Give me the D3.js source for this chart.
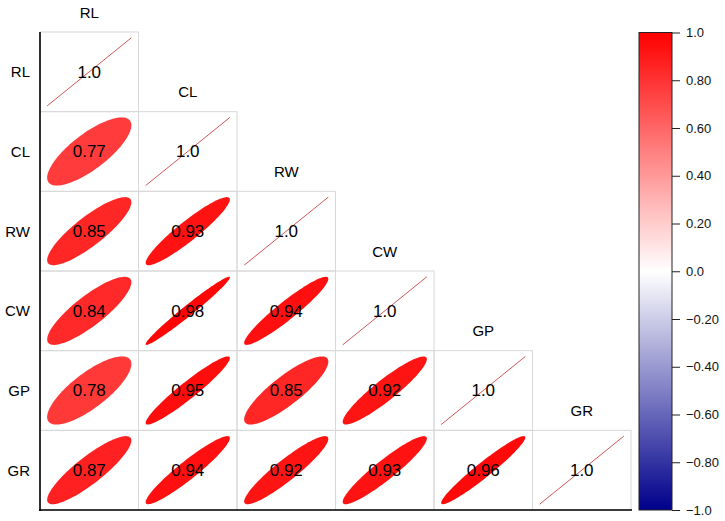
<!DOCTYPE html>
<html>
<head>
<meta charset="utf-8">
<script src="https://cdn.jsdelivr.net/npm/d3@7"></script>
<style>
  body { margin: 0; background: #fff; }
  text { font-family: Arial, "Liberation Sans", sans-serif; }
</style>
</head>
<body>
<div id="canvas"></div>
<script>
"use strict"

let svgWidth = 725;
let svgHeight = 521;

/* Data: variables and lower-triangle correlations (row by row) */
let variables = ["RL", "CL", "RW", "CW", "GP", "GR"];
let corrRows = [
    [1.0],
    [0.77, 1.0],
    [0.85, 0.93, 1.0],
    [0.84, 0.98, 0.94, 1.0],
    [0.78, 0.95, 0.85, 0.92, 1.0],
    [0.87, 0.94, 0.92, 0.93, 0.96, 1.0]
];
let legendTicks = [1.0, 0.8, 0.6, 0.4, 0.2, 0.0, -0.2, -0.4, -0.6, -0.8, -1.0];

let cells = [];
corrRows.forEach(function (row, i) {
    row.forEach(function (r, j) {
        cells.push({row: variables[i], col: variables[j], r: r, diag: i === j});
    });
});

let svg = d3.select("#canvas")
    .append("svg")
    .attr("width", svgWidth)
    .attr("height", svgHeight);

/* Scales */
let xScale = d3.scaleBand()
    .domain(variables)
    .range([40, 631]);

let yScale = d3.scaleBand()
    .domain(variables)
    .range([32, 510]);

let color = d3.scaleLinear()
    .domain([-1, 0, 1])
    .range(["#00008b", "#ffffff", "#ff0000"]);

let cw = xScale.bandwidth();
let ch = yScale.bandwidth();

// local ellipse coords in [-1,1] mapped into the cell
let ex = d3.scaleLinear().domain([-1, 1]).range([cw / 2 - cw / 2 * 0.855, cw / 2 + cw / 2 * 0.855]);
let ey = d3.scaleLinear().domain([-1, 1]).range([ch / 2 + ch / 2 * 0.855, ch / 2 - ch / 2 * 0.855]);

function ellipsePoints(r) {
    let d = Math.acos(Math.max(-1, Math.min(1, r)));
    let pts = [];
    for (let k = 0; k <= 100; k++) {
        let t = k / 100 * 2 * Math.PI;
        pts.push([ex(Math.cos(t + d / 2)), ey(Math.cos(t - d / 2))]);
    }
    return pts;
}

let g = svg.selectAll("g.cell")
    .data(cells)
    .join("g")
    .attr("class", "cell")
    .attr("transform", function (d) {
        return "translate(" + xScale(d.col) + "," + yScale(d.row) + ")";
    });

/* cell borders */
g.append("rect")
    .attr("width", cw)
    .attr("height", ch)
    .attr("fill", "none")
    .attr("stroke", "#d8d8d8")
    .attr("stroke-width", 1);

/* ellipses */
g.filter(function (d) { return !d.diag; })
    .append("path")
    .attr("d", function (d) { return d3.line()(ellipsePoints(d.r)) + "Z"; })
    .attr("fill", function (d) { return color(d.r); });

/* diagonal: degenerate ellipse = line */
g.filter(function (d) { return d.diag; })
    .append("line")
    .attr("x1", ex(-1))
    .attr("y1", ey(-1))
    .attr("x2", ex(1))
    .attr("y2", ey(1))
    .attr("stroke", "#cc4444")
    .attr("stroke-width", 0.9);

/* values */
g.append("text")
    .attr("x", cw / 2)
    .attr("y", ch / 2 + 6)
    .attr("text-anchor", "middle")
    .attr("font-size", 17)
    .attr("fill", "#000")
    .text(function (d) { return d.diag ? d.r.toFixed(1) : d.r.toFixed(2); });

/* column labels above diagonal cells */
svg.selectAll("text.colLabel")
    .data(variables)
    .join("text")
    .attr("class", "colLabel")
    .attr("x", function (v) { return xScale(v) + cw / 2; })
    .attr("y", function (v) { return yScale(v) - 14.5; })
    .attr("text-anchor", "middle")
    .attr("font-size", 15)
    .text(function (v) { return v; });

/* row labels */
svg.selectAll("text.rowLabel")
    .data(variables)
    .join("text")
    .attr("class", "rowLabel")
    .attr("x", 30)
    .attr("y", function (v) { return yScale(v) + ch / 2 + 5.5; })
    .attr("text-anchor", "end")
    .attr("font-size", 15)
    .text(function (v) { return v; });

/* left and bottom axis lines */
svg.append("line")
    .attr("x1", 40).attr("x2", 40)
    .attr("y1", 32).attr("y2", 511)
    .attr("stroke", "#000")
    .attr("stroke-width", 1.6);

svg.append("line")
    .attr("x1", 39).attr("x2", 632)
    .attr("y1", 510).attr("y2", 510)
    .attr("stroke", "#000")
    .attr("stroke-width", 1.6);

/* Colour bar */
let barX = 639, barW = 33;
let legendScale = d3.scaleLinear()
    .domain([-1, 1])
    .range([510, 32.5]);

let grad = svg.append("defs")
    .append("linearGradient")
    .attr("id", "cbar")
    .attr("x1", "0").attr("y1", "1")
    .attr("x2", "0").attr("y2", "0");

d3.range(0, 21).forEach(function (k) {
    let v = -1 + k * 0.1;
    grad.append("stop")
        .attr("offset", (k / 20 * 100) + "%")
        .attr("stop-color", color(v));
});

svg.append("rect")
    .attr("x", barX)
    .attr("y", legendScale(1))
    .attr("width", barW)
    .attr("height", legendScale(-1) - legendScale(1))
    .attr("fill", "url(#cbar)")
    .attr("stroke", "#222")
    .attr("stroke-width", 1);

let legendAxis = d3.axisRight(legendScale)
    .tickValues(legendTicks)
    .tickSize(8)
    .tickPadding(6)
    .tickFormat(function (v) {
        let s = (Math.abs(v) === 1 || v === 0) ? Math.abs(v).toFixed(1) : Math.abs(v).toFixed(2);
        return (v < 0 ? "\u2212" : "") + s;
    });

let axisG = svg.append("g")
    .attr("transform", "translate(" + (barX + barW) + ",0)")
    .call(legendAxis);

axisG.select(".domain").remove();
axisG.selectAll("text")
    .attr("font-size", 13)
    .attr("font-family", "Arial, 'Liberation Sans', sans-serif")
    .attr("fill", "#111");
axisG.selectAll("line").attr("stroke", "#222");
</script>
</body>
</html>
